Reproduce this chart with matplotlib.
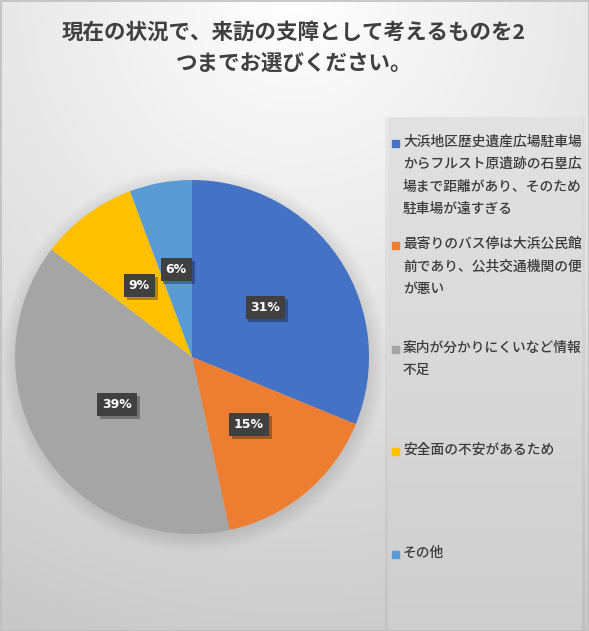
import numpy as np
import matplotlib

matplotlib.use("Agg")
import matplotlib.pyplot as plt
import matplotlib.patheffects as pe
from matplotlib.patches import Rectangle, Circle

plt.rcParams["font.family"] = ["Noto Sans CJK JP", "DejaVu Sans"]

# データ（グラフの値）
title = "現在の状況で、来訪の支障として考えるものを2\nつまでお選びください。"
categories = [
    "大浜地区歴史遺産広場駐車場\nからフルスト原遺跡の石塁広\n場まで距離があり、そのため\n駐車場が遠すぎる",
    "最寄りのバス停は大浜公民館\n前であり、公共交通機関の便\nが悪い",
    "案内が分かりにくいなど情報\n不足",
    "安全面の不安があるため",
    "その他",
]
shares = [31.2, 15.4, 38.8, 8.9, 5.7]  # 円の角度から読んだ割合（%）
colors = ["#4472C4", "#ED7D31", "#A5A5A5", "#FFC000", "#5B9BD5"]

W, H = 589, 631
fig = plt.figure(figsize=(W / 100, H / 100), dpi=100)

# 背景のグラデーション（上中央が白、下へ行くほど灰色）
bg = fig.add_axes([0, 0, 1, 1])
yy, xx = np.mgrid[0:H, 0:W]
dist = np.hypot(xx - W / 2, yy)
shade = np.clip(255 - 0.08 * dist, 190, 255) / 255
bg.imshow(np.dstack([shade] * 3), extent=[0, W, H, 0], aspect="auto")
# 凡例パネル（左右に薄い影）
bg.add_patch(Rectangle((385, 117), 200, 513, color="black", alpha=0.04, lw=0))
py = np.linspace(0, 1, 200)[:, None]
panel = (236 - 21 * py) / 255 * np.ones((200, 2))
bg.imshow(np.dstack([panel] * 3), extent=[388, 582, 630, 117], aspect="auto")
bg.add_patch(Rectangle((0.5, 0.5), W - 1, H - 1, fill=False, ec="#bfbfbf", lw=1.2))
bg.set_xlim(0, W)
bg.set_ylim(H, 0)
bg.axis("off")

# 円グラフ（中心 (192, 357) px、半径 177 px）
ax = fig.add_axes([15 / W, 97 / H, 354 / W, 354 / H])
# ぼかした影
for k in range(8):
    ax.add_patch(Circle((0.01, -0.015), 1.0 + 0.012 * k, color="black", alpha=0.011,
                        lw=0, clip_on=False))
wedges, _, autotexts = ax.pie(
    shares, colors=colors, startangle=90, counterclock=False,
    autopct=lambda p: f"{p:.0f}%", pctdistance=0.5,
    wedgeprops=dict(linewidth=0),
    textprops=dict(color="white", fontsize=9, fontweight="bold", family=["DejaVu Sans"]),
)
for t in autotexts:
    t.set_bbox(dict(boxstyle="square,pad=0.4", fc="#404040", ec="none"))
    t.get_bbox_patch().set_path_effects(
        [pe.SimplePatchShadow(offset=(2, -2), shadow_rgbFace="black", alpha=0.3), pe.Normal()])
    t.set_zorder(5)
ax.set_xlim(-1, 1)
ax.set_ylim(-1, 1)
ax.set_aspect("equal")
ax.axis("off")

# タイトル
fig.text(294 / W, 1 - 48 / H, title, ha="center", va="center", fontsize=15.5,
         fontweight="bold", color="#404040", linespacing=1.65)

# 凡例（手書き）
entry_y = [146, 248, 352, 454, 557]
for label, c, y in zip(categories, colors, entry_y):
    bg.add_patch(Rectangle((392, y - 6), 7, 7, color=c))
    bg.text(403, y - 11, label, ha="left", va="top", fontsize=9.9, color="#3a3a3a",
            fontweight="medium", linespacing=1.75)

fig.savefig("out.png", dpi=100)
